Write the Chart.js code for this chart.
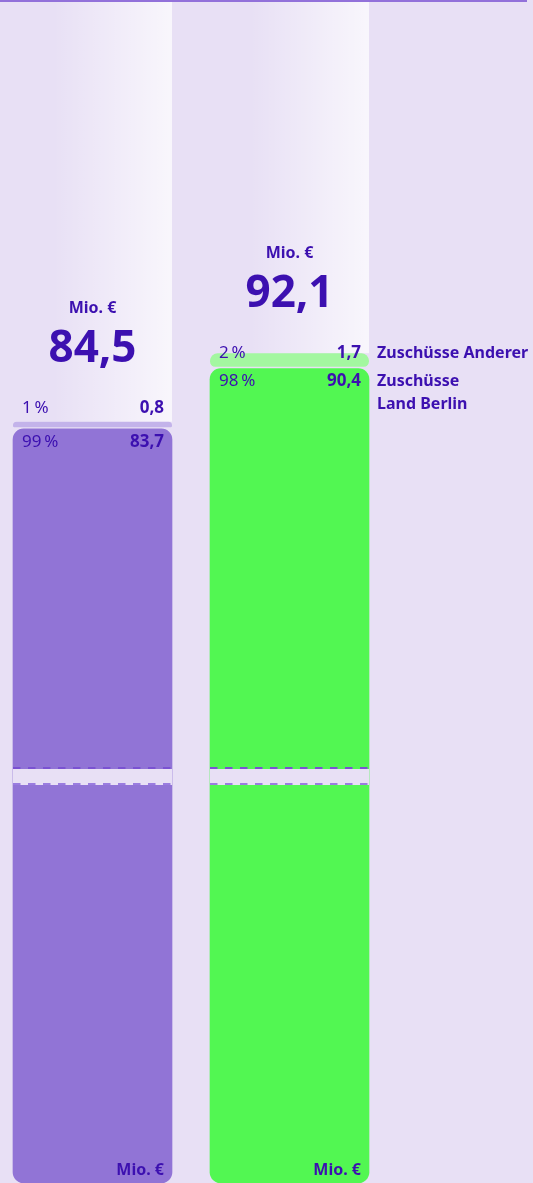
<!DOCTYPE html>
<html>
<head>
<meta charset="utf-8">
<script src="https://cdn.jsdelivr.net/npm/chart.js@4.4.0/dist/chart.umd.min.js"></script>
<style>
  html, body { margin: 0; padding: 0; width: 533px; height: 1183px; overflow: hidden; background: #E8E0F5; }
  #wrap { position: absolute; left: -6px; top: 0; width: 539px; height: 1183px; }
</style>
</head>
<body>
<div id="wrap"><canvas id="chart"></canvas></div>
<script>
// data
const categories = ['Vorjahr', 'Berichtsjahr'];
const totals = [84.5, 92.1];
const landBerlin = [83.7, 90.4];
const andere = [0.8, 1.7];
const shareBerlin = [99, 98];
const shareAndere = [1, 2];
const labelBerlin = ['Zuschüsse', 'Land Berlin'];
const labelAndere = ['Zuschüsse Anderer'];
const unit = 'Mio. €';
const yMax = 131.3;
const axisBreak = 45.2;

const COLORS = {
    bg: '#E8E0F5',
    text: '#3C10B0',
    rule: '#9271DA',
    dashTop: '#7A52D2',
    dashBottom: '#9A7CE0',
    berlin: ['#9174D6', '#52F752'],
    andere: ['#C3B3EA', '#A3F7A0']
};
const FONT = '"Noto Sans", "DejaVu Sans", sans-serif';

const fmt = v => v.toFixed(1).replace('.', ',');
const pct = v => v + '\u2009%';

// floating bars so that every segment gets its own rounded corners
const berlinBars = landBerlin.map(v => [0, v]);
const andereBars = andere.map((v, i) => [landBerlin[i], landBerlin[i] + v]);

// background columns, top rule, axis break and all texts
const decor = {
    id: 'decor',
    beforeDraw(chart) {
        const { ctx } = chart;
        ctx.save();
        ctx.fillStyle = COLORS.bg;
        ctx.fillRect(0, 0, chart.width, chart.height);

        let prevRight = 0;
        chart.getDatasetMeta(1).data.forEach(el => {
            const left = el.x - el.width / 2, right = el.x + el.width / 2;
            const g = ctx.createLinearGradient(left + 40, 0, right, 0);
            g.addColorStop(0, 'rgba(255,255,255,0)');
            g.addColorStop(1, 'rgba(255,255,255,0.72)');
            ctx.fillStyle = g;
            ctx.fillRect(prevRight, 0, right - prevRight, el.y);
            prevRight = right;
        });

        ctx.fillStyle = COLORS.rule;
        ctx.fillRect(6, 0, 527, 2);
        ctx.restore();
    },
    afterDatasetsDraw(chart) {
        const { ctx, chartArea } = chart;
        const yScale = chart.scales.y;
        const mains = chart.getDatasetMeta(0).data;
        const tops = chart.getDatasetMeta(1).data;
        const yb = Math.round(yScale.getPixelForValue(axisBreak));

        ctx.save();
        // axis break
        mains.forEach(el => {
            const left = el.x - el.width / 2, w = el.width;
            ctx.fillStyle = COLORS.bg;
            ctx.fillRect(left, yb - 7, w, 16);
            ctx.lineWidth = 2;
            ctx.setLineDash([7.5, 7.5]);
            ctx.strokeStyle = COLORS.dashTop;
            ctx.beginPath(); ctx.moveTo(left, yb - 8); ctx.lineTo(left + w, yb - 8); ctx.stroke();
            ctx.strokeStyle = COLORS.dashBottom;
            ctx.beginPath(); ctx.moveTo(left, yb + 8); ctx.lineTo(left + w, yb + 8); ctx.stroke();
        });
        ctx.setLineDash([]);

        ctx.fillStyle = COLORS.text;
        mains.forEach((el, i) => {
            const top = tops[i];
            const left = el.x - el.width / 2, right = el.x + el.width / 2;
            const xL = left + 9, xR = right - 8;
            const segH = top.base - top.y;
            const smallY = segH < 10 ? top.y - 14 : top.y;
            const mainY = el.y + 13;

            ctx.textBaseline = 'middle';
            ctx.textAlign = 'left';
            ctx.font = '400 17px ' + FONT;
            ctx.fillText(pct(shareAndere[i]), xL, smallY);
            ctx.fillText(pct(shareBerlin[i]), xL, mainY);
            ctx.textAlign = 'right';
            ctx.font = '700 17px ' + FONT;
            ctx.fillText(fmt(andere[i]), xR, smallY);
            ctx.fillText(fmt(landBerlin[i]), xR, mainY);

            // total above the stack
            ctx.textAlign = 'center';
            ctx.textBaseline = 'alphabetic';
            const totalBase = smallY - 46;
            ctx.font = '700 44px ' + FONT;
            ctx.fillText(fmt(totals[i]), el.x, totalBase);
            ctx.font = '700 16px ' + FONT;
            ctx.fillText(unit, el.x, totalBase - 49);

            // unit at the foot of the bar
            ctx.textAlign = 'right';
            ctx.textBaseline = 'middle';
            ctx.fillText(unit, xR, chartArea.bottom - 13);

            // series names next to the last bar
            if (i === mains.length - 1) {
                ctx.textAlign = 'left';
                ctx.font = '700 16px ' + FONT;
                labelAndere.forEach((t, k) => ctx.fillText(t, right + 8, smallY + k * 23));
                labelBerlin.forEach((t, k) => ctx.fillText(t, right + 8, mainY + k * 23));
            }
        });
        ctx.restore();
    }
};

new Chart(document.getElementById('chart'), {
    type: 'bar',
    data: {
        labels: categories,
        datasets: [
            {
                label: labelBerlin.join(' '),
                data: berlinBars,
                backgroundColor: COLORS.berlin,
                borderWidth: 0,
                borderSkipped: false,
                borderRadius: 11,
                barThickness: 159
            },
            {
                label: labelAndere.join(' '),
                data: andereBars,
                backgroundColor: COLORS.andere,
                borderColor: 'rgba(0,0,0,0)',
                borderWidth: { top: 0, left: 0, right: 0, bottom: 2 },
                borderSkipped: false,
                borderRadius: 8,
                barThickness: 159
            }
        ]
    },
    options: {
        responsive: true,
        maintainAspectRatio: false,
        animation: false,
        layout: { padding: { left: 0, right: 145, top: 0, bottom: 0 } },
        plugins: { legend: { display: false }, tooltip: { enabled: false } },
        scales: {
            x: { stacked: true, display: false },
            y: { display: false, min: 0, max: yMax }
        }
    },
    plugins: [decor]
});
</script>
</body>
</html>
